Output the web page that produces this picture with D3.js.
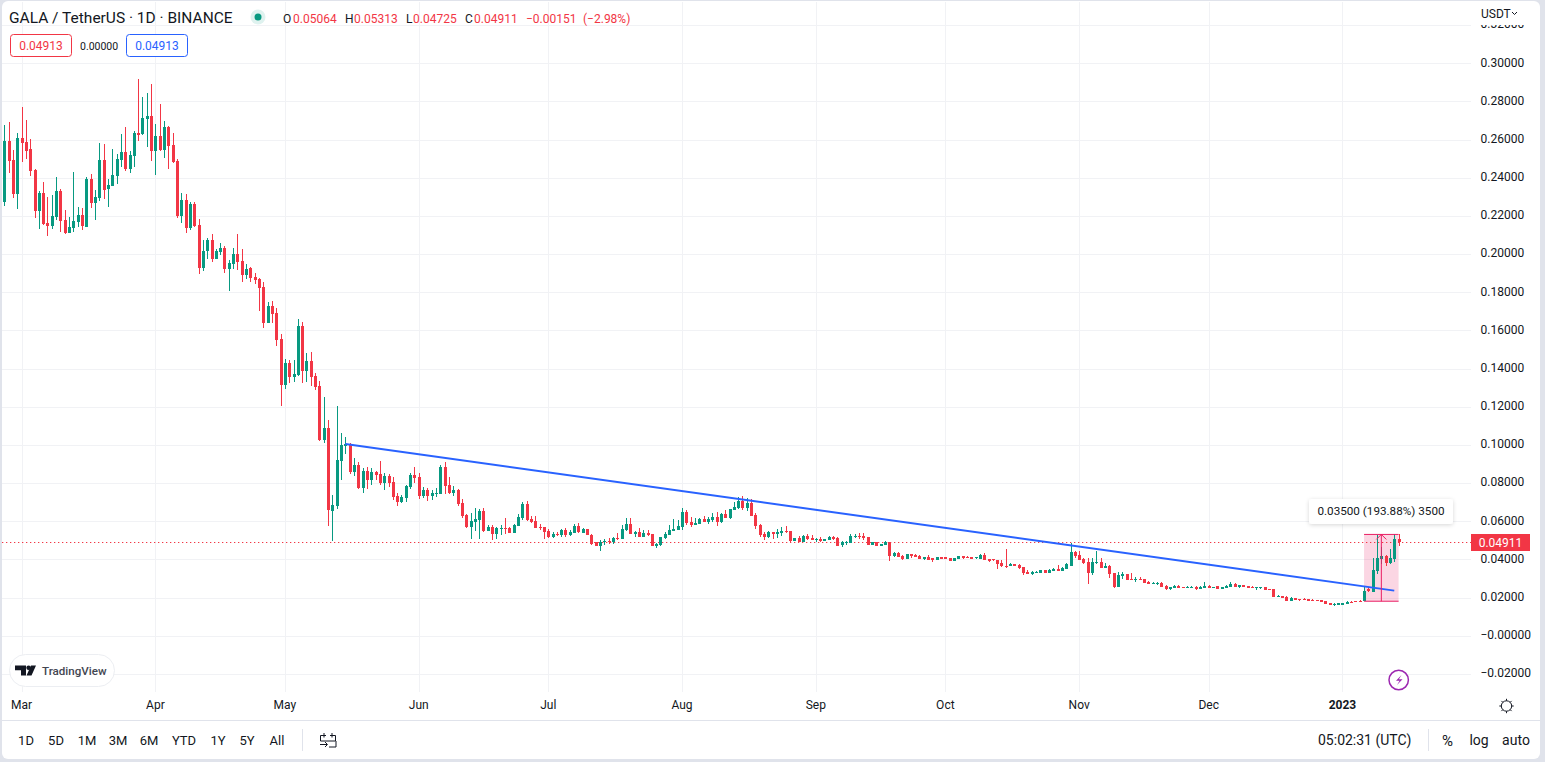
<!DOCTYPE html>
<html><head><meta charset="utf-8">
<script src="https://cdn.jsdelivr.net/npm/d3@7"></script>
<style>
html,body{margin:0;padding:0;background:#e0e3eb;overflow:hidden}
svg{display:block;font-family:Roboto,sans-serif}
text{fill:#131722}
</style></head><body>
<svg id="c" width="1545" height="762"></svg>
<script>
const firstDay = "2022-02-25";
const opens = [
.2273,.2591,.2492,.2314,.2607,.2586,.2549,.2439,.2225,.2319,
.2162,.2146,.2193,.2329,.2178,.2109,.2136,.2167,.2204,.2141,
.2392,.2267,.2293,.2492,.2340,.2356,.2408,.2492,.2534,.2445,
.2513,.2633,.2628,.2707,.2722,.2539,.2618,.2544,.2665,.2570,
.2487,.2198,.2282,.2136,.2261,.2151,.1926,.2015,.2073,.1973,
.2010,.2031,.1921,.1947,.2000,.1963,.1889,.1926,.1879,.1867,
.1827,.1638,.1727,.1690,.1554,.1313,.1429,.1355,.1366,.1622,
.1387,.1439,.1360,.1308,.1025,.1088,.0653,.0680,.0915,.0994,
.1004,.0858,.0894,.0774,.0863,.0816,.0859,.0847,.0798,.0837,
.0805,.0732,.0700,.0721,.0779,.0842,.0831,.0732,.0763,.0732,
.0744,.0742,.0884,.0789,.0748,.0763,.0695,.0632,.0569,.0596,
.0606,.0653,.0548,.0569,.0533,.0559,.0564,.0564,.0538,.0575,
.0616,.0690,.0611,.0601,.0569,.0568,.0548,.0517,.0533,.0527,
.0554,.0527,.0538,.0575,.0538,.0559,.0529,.0489,.0470,.0491,
.0496,.0491,.0512,.0507,.0554,.0585,.0533,.0543,.0517,.0538,
.0533,.0470,.0475,.0512,.0527,.0548,.0554,.0570,.0648,.0596,
.0580,.0585,.0612,.0596,.0606,.0622,.0596,.0638,.0617,.0659,
.0669,.0706,.0669,.0695,.0632,.0580,.0533,.0517,.0542,.0533,
.0536,.0547,.0549,.0496,.0512,.0491,.0522,.0512,.0502,.0507,
.0496,.0502,.0517,.0512,.0475,.0488,.0486,.0517,.0522,.0522,
.0517,.0475,.0491,.0470,.0475,.0491,.0418,.0433,.0418,.0402,
.0428,.0423,.0418,.0402,.0412,.0407,.0397,.0412,.0411,.0407,
.0392,.0402,.0418,.0412,.0412,.0405,.0402,.0423,.0402,.0400,
.0397,.0381,.0365,.0365,.0376,.0370,.0360,.0334,.0323,.0329,
.0329,.0344,.0329,.0339,.0350,.0339,.0350,.0365,.0439,.0423,
.0402,.0386,.0329,.0381,.0386,.0355,.0365,.0329,.0255,.0313,
.0323,.0296,.0292,.0297,.0297,.0283,.0271,.0271,.0276,.0261,
.0245,.0250,.0261,.0254,.0250,.0250,.0255,.0245,.0250,.0261,
.0250,.0261,.0245,.0250,.0255,.0271,.0255,.0266,.0261,.0255,
.0250,.0250,.0255,.0245,.0245,.0203,.0208,.0203,.0182,.0198,
.0191,.0192,.0191,.0189,.0187,.0187,.0182,.0172,.0161,.0161,
.0161,.0166,.0178,.0180,.0184,.0180,.0243,.0229,.0339,.0402,
.0418,.0381,.0402,.05064];
const closes = [
.2591,.2488,.2314,.2607,.2581,.2539,.2434,.2225,.2319,.2157,
.2146,.2198,.2329,.2172,.2109,.2141,.2172,.2204,.2146,.2392,
.2267,.2298,.2492,.2335,.2361,.2413,.2497,.2534,.2445,.2518,
.2633,.2623,.2712,.2722,.2539,.2618,.2544,.2665,.2565,.2481,
.2198,.2282,.2136,.2261,.2146,.1926,.2015,.2073,.1973,.2015,
.2031,.1921,.1952,.2000,.1958,.1889,.1921,.1874,.1863,.1821,
.1638,.1727,.1685,.1549,.1313,.1429,.1355,.1371,.1622,.1387,
.1439,.1355,.1303,.1025,.1088,.0658,.0685,.0920,.0999,.1004,
.0858,.0894,.0774,.0863,.0816,.0859,.0842,.0798,.0837,.0802,
.0728,.0700,.0727,.0784,.0842,.0826,.0732,.0763,.0732,.0747,
.0749,.0884,.0784,.0748,.0763,.0690,.0627,.0569,.0601,.0611,
.0653,.0548,.0569,.0533,.0564,.0564,.0559,.0538,.0580,.0622,
.0690,.0606,.0596,.0564,.0564,.0543,.0517,.0533,.0527,.0554,
.0527,.0543,.0575,.0543,.0559,.0527,.0480,.0470,.0491,.0496,
.0491,.0512,.0507,.0559,.0585,.0533,.0543,.0517,.0538,.0527,
.0470,.0480,.0517,.0533,.0554,.0559,.0575,.0648,.0591,.0580,
.0591,.0612,.0596,.0612,.0622,.0596,.0638,.0617,.0664,.0674,
.0706,.0669,.0695,.0627,.0575,.0528,.0517,.0543,.0533,.0543,
.0549,.0543,.0496,.0512,.0491,.0522,.0507,.0502,.0507,.0496,
.0505,.0517,.0507,.0470,.0491,.0491,.0522,.0522,.0517,.0512,
.0475,.0491,.0470,.0481,.0491,.0418,.0433,.0412,.0402,.0428,
.0418,.0412,.0402,.0412,.0397,.0397,.0412,.0402,.0402,.0392,
.0407,.0418,.0407,.0407,.0402,.0411,.0423,.0397,.0392,.0397,
.0376,.0365,.0362,.0376,.0365,.0355,.0329,.0323,.0334,.0334,
.0344,.0329,.0344,.0350,.0339,.0355,.0376,.0439,.0418,.0397,
.0381,.0329,.0386,.0386,.0355,.0365,.0323,.0255,.0318,.0323,
.0292,.0292,.0297,.0292,.0276,.0271,.0278,.0278,.0255,.0245,
.0255,.0261,.0250,.0250,.0255,.0255,.0245,.0255,.0261,.0250,
.0254,.0245,.0255,.0261,.0271,.0255,.0266,.0255,.0250,.0250,
.0254,.0254,.0240,.0243,.0203,.0208,.0198,.0182,.0198,.0187,
.0187,.0187,.0182,.0182,.0182,.0177,.0166,.0161,.0166,.0170,
.0170,.0177,.0173,.0175,.0178,.0234,.0233,.0344,.0407,.0418,
.0381,.0407,.0506,.04911];
const highs = [
.2675,.2691,.2544,.2633,.2769,.2701,.2602,.2445,.2329,.2377,
.2298,.2309,.2403,.2340,.2230,.2193,.2429,.2246,.2240,.2403,
.2419,.2335,.2581,.2576,.2392,.2549,.2523,.2628,.2665,.2539,
.2644,.2916,.2822,.2843,.2890,.2680,.2785,.2696,.2670,.2633,
.2497,.2319,.2314,.2272,.2272,.2183,.2073,.2083,.2104,.2026,
.2057,.2041,.1968,.2031,.2104,.2026,.1947,.1931,.1900,.1872,
.1853,.1748,.1753,.1717,.1580,.1449,.1444,.1444,.1659,.1643,
.1481,.1486,.1376,.1334,.1250,.1130,.0737,.1203,.1062,.1041,
.1009,.0931,.0910,.0879,.0882,.0880,.0861,.0915,.0850,.0847,
.0833,.0746,.0737,.0789,.0852,.0884,.0854,.0781,.0772,.0763,
.0774,.0894,.0910,.0831,.0784,.0768,.0716,.0638,.0641,.0669,
.0662,.0669,.0580,.0580,.0571,.0580,.0616,.0571,.0585,.0638,
.0700,.0706,.0627,.0627,.0585,.0569,.0559,.0543,.0543,.0559,
.0562,.0554,.0585,.0589,.0564,.0561,.0533,.0491,.0501,.0507,
.0512,.0517,.0538,.0580,.0616,.0616,.0548,.0562,.0554,.0554,
.0533,.0486,.0517,.0543,.0580,.0611,.0606,.0669,.0659,.0622,
.0617,.0617,.0627,.0622,.0643,.0648,.0643,.0659,.0664,.0701,
.0727,.0732,.0722,.0716,.0643,.0585,.0543,.0549,.0543,.0559,
.0570,.0575,.0549,.0512,.0522,.0528,.0533,.0528,.0512,.0517,
.0507,.0522,.0522,.0517,.0496,.0496,.0533,.0533,.0538,.0538,
.0517,.0491,.0491,.0481,.0496,.0491,.0439,.0439,.0423,.0428,
.0428,.0428,.0423,.0412,.0423,.0407,.0412,.0412,.0412,.0407,
.0407,.0418,.0418,.0418,.0412,.0412,.0428,.0433,.0402,.0402,
.0397,.0397,.0454,.0381,.0376,.0376,.0360,.0344,.0339,.0339,
.0344,.0344,.0350,.0355,.0371,.0360,.0381,.0486,.0444,.0444,
.0407,.0407,.0407,.0444,.0407,.0381,.0371,.0329,.0334,.0334,
.0323,.0329,.0308,.0308,.0297,.0287,.0281,.0281,.0281,.0266,
.0255,.0266,.0266,.0255,.0261,.0261,.0261,.0261,.0281,.0266,
.0255,.0261,.0255,.0266,.0281,.0276,.0266,.0266,.0261,.0261,
.0255,.0255,.0255,.0245,.0245,.0213,.0208,.0208,.0203,.0198,
.0192,.0198,.0192,.0191,.0187,.0187,.0182,.0172,.0172,.0172,
.0172,.0182,.0180,.0182,.0185,.0255,.0255,.0407,.0528,.0466,
.0423,.0454,.0531,.05313];
const lows = [
.2252,.2425,.2293,.2237,.2481,.2497,.2408,.2188,.2130,.2151,
.2094,.2130,.2178,.2115,.2104,.2109,.2115,.2141,.2125,.2141,
.2240,.2178,.2277,.2287,.2246,.2356,.2366,.2455,.2434,.2424,
.2455,.2591,.2623,.2560,.2487,.2413,.2539,.2502,.2445,.2476,
.2188,.2162,.2109,.2125,.2141,.1895,.1910,.1973,.1958,.1973,
.1994,.1900,.1806,.1921,.1916,.1853,.1869,.1853,.1842,.1701,
.1612,.1638,.1638,.1518,.1203,.1292,.1324,.1329,.1360,.1324,
.1329,.1308,.1287,.1020,.1010,.0575,.0496,.0664,.0816,.0952,
.0847,.0837,.0769,.0748,.0768,.0789,.0816,.0789,.0763,.0781,
.0711,.0679,.0695,.0700,.0768,.0798,.0716,.0721,.0706,.0711,
.0727,.0742,.0742,.0742,.0732,.0679,.0617,.0564,.0507,.0548,
.0507,.0543,.0548,.0501,.0507,.0527,.0533,.0538,.0538,.0575,
.0606,.0601,.0590,.0564,.0554,.0507,.0512,.0512,.0522,.0517,
.0517,.0522,.0538,.0538,.0538,.0527,.0475,.0470,.0444,.0473,
.0480,.0480,.0501,.0507,.0548,.0533,.0517,.0517,.0517,.0522,
.0470,.0459,.0470,.0507,.0527,.0548,.0554,.0554,.0580,.0570,
.0580,.0585,.0596,.0585,.0596,.0575,.0591,.0617,.0612,.0659,
.0664,.0659,.0653,.0627,.0559,.0517,.0502,.0512,.0507,.0512,
.0522,.0538,.0491,.0496,.0491,.0491,.0502,.0502,.0491,.0491,
.0496,.0502,.0502,.0470,.0465,.0475,.0486,.0512,.0507,.0502,
.0475,.0475,.0470,.0470,.0475,.0391,.0412,.0412,.0397,.0402,
.0407,.0412,.0402,.0397,.0397,.0386,.0397,.0402,.0402,.0392,
.0392,.0402,.0402,.0407,.0402,.0402,.0402,.0397,.0386,.0392,
.0350,.0360,.0355,.0365,.0365,.0350,.0318,.0323,.0318,.0329,
.0329,.0329,.0329,.0339,.0339,.0339,.0350,.0365,.0407,.0397,
.0376,.0271,.0318,.0376,.0355,.0355,.0303,.0250,.0255,.0297,
.0292,.0292,.0281,.0292,.0276,.0271,.0271,.0266,.0255,.0240,
.0240,.0250,.0250,.0250,.0250,.0250,.0240,.0245,.0250,.0250,
.0250,.0245,.0245,.0250,.0255,.0255,.0250,.0255,.0250,.0250,
.0240,.0245,.0240,.0243,.0203,.0203,.0198,.0182,.0182,.0187,
.0182,.0187,.0182,.0182,.0182,.0177,.0166,.0161,.0156,.0161,
.0161,.0166,.0173,.0175,.0178,.0180,.0229,.0229,.0322,.0376,
.0365,.0376,.0386,.04725];

const priceTicks = [.32,.30,.28,.26,.24,.22,.20,.18,.16,.14,.12,.10,.08,.06,.04,.02,0,-.02];
const priceTickLabels = ["0.32000","0.30000","0.28000","0.26000","0.24000","0.22000","0.20000","0.18000","0.16000","0.14000","0.12000","0.10000","0.08000","0.06000","0.04000","0.02000","\u22120.00000","\u22120.02000"];
const monthDays = ["2022-03-01","2022-04-01","2022-05-01","2022-06-01","2022-07-01","2022-08-01","2022-09-01","2022-10-01","2022-11-01","2022-12-01","2023-01-01"];
const monthLabels = ["Mar","Apr","May","Jun","Jul","Aug","Sep","Oct","Nov","Dec","2023"];
const rangeButtons = ["1D","5D","1M","3M","6M","YTD","1Y","5Y","All"];
const rangeButtonCentres = [26,56,87,118,149,184,218,247,277];
const ohlcLabels = [["O",283],["H",345],["L",406],["C",465]];
const ohlcValues = [["0.05064",293],["0.05313",354],["0.04725",413],["0.04911",474],["\u22120.00151",526],["(\u22122.98%)",583]];
const trendDays = ["2022-05-15","2023-01-13"];
const trendPrices = [.1004,.0236];
const measureDays = ["2023-01-06","2023-01-14"];
const measurePrices = [.01805,.05305];
const lastPrice = .04911;

const GREEN="#089981", RED="#f23645", BLUE="#2962ff", PINK="#e91e63", GRID="#f1f2f5";
const dayMs=864e5, parse=d3.utcParse("%Y-%m-%d"), t0=parse(firstDay);
const candles = opens.map((o,i)=>({date:new Date(+t0+i*dayMs),o,c:closes[i],h:highs[i],l:lows[i]}));
const x=d3.scaleUtc().domain([t0,candles[candles.length-1].date]).range([4.33,1398.6]);
const y=d3.scaleLinear().domain([.30,.02]).range([63.2,597.5]);
const svg=d3.select("#c");
const defs=svg.append("defs");
defs.append("clipPath").attr("id","axclip").append("rect").attr("x",1471).attr("y",25).attr("width",70).attr("height",670);
defs.append("filter").attr("id","sh").attr("x","-10%").attr("y","-30%").attr("width","120%").attr("height","170%")
  .append("feDropShadow").attr("dx",0).attr("dy",1).attr("stdDeviation",2).attr("flood-color","#000").attr("flood-opacity",.16);

svg.append("rect").attr("x",2).attr("y",1).attr("width",1538).attr("height",758).attr("rx",6).attr("fill","#fff");

// grid
const grid=svg.append("g").attr("shape-rendering","crispEdges");
grid.selectAll(".h").data(priceTicks).join("line").attr("x1",2).attr("x2",1471)
  .attr("y1",d=>Math.round(y(d))+.5).attr("y2",d=>Math.round(y(d))+.5).attr("stroke",GRID);
grid.selectAll(".v").data(monthDays).join("line")
  .attr("x1",d=>Math.round(x(parse(d)))+.5).attr("x2",d=>Math.round(x(parse(d)))+.5)
  .attr("y1",2).attr("y2",692).attr("stroke",GRID);

// measure box (behind candles)
const mx0=x(parse(measureDays[0])), mx1=x(parse(measureDays[1])), my0=y(measurePrices[0]), my1=y(measurePrices[1]);
svg.append("rect").attr("x",mx0).attr("y",my1).attr("width",mx1-mx0).attr("height",my0-my1).attr("fill",PINK).attr("fill-opacity",.18);

// last price line
const lastY=Math.round(y(lastPrice)+.3)+.5;
svg.append("line").attr("x1",2).attr("x2",1471).attr("y1",lastY).attr("y2",lastY)
  .attr("stroke",RED).attr("stroke-dasharray","1.3 2.7").attr("stroke-width",1.2);

// candles
const cg=svg.append("g").attr("shape-rendering","crispEdges");
cg.selectAll(".w").data(candles).join("rect").attr("x",d=>Math.round(x(d.date))).attr("width",1)
  .attr("y",d=>y(d.h)).attr("height",d=>Math.max(1,y(d.l)-y(d.h))).attr("fill",d=>d.c>=d.o?GREEN:RED);
cg.selectAll(".b").data(candles).join("rect").attr("x",d=>Math.round(x(d.date))-1).attr("width",3)
  .attr("y",d=>y(Math.max(d.o,d.c))).attr("height",d=>Math.max(1,Math.abs(y(d.o)-y(d.c)))).attr("fill",d=>d.c>=d.o?GREEN:RED);

// trend line
svg.append("line").attr("x1",x(parse(trendDays[0]))).attr("y1",y(trendPrices[0]))
  .attr("x2",x(parse(trendDays[1]))).attr("y2",y(trendPrices[1])).attr("stroke",BLUE).attr("stroke-width",2);

// measure lines
const mm=svg.append("g").attr("stroke",PINK).attr("fill","none").attr("stroke-width",1);
const mc=(mx0+mx1)/2;
mm.append("line").attr("x1",mx0).attr("x2",mx1).attr("y1",my1).attr("y2",my1);
mm.append("line").attr("x1",mx0).attr("x2",mx1).attr("y1",my0).attr("y2",my0);
mm.append("line").attr("x1",mc).attr("x2",mc).attr("y1",my0).attr("y2",my1);
mm.append("path").attr("d",`M${mc-5} ${my1+5}L${mc} ${my1}L${mc+5} ${my1+5}`);

// measure tooltip
svg.append("rect").attr("x",1309).attr("y",499).attr("width",144).attr("height",25).attr("rx",3).attr("fill","#fff").attr("filter","url(#sh)");
svg.append("text").attr("x",1381).attr("y",515).attr("text-anchor","middle").attr("font-size",11.7).text("0.03500 (193.88%) 3500");

// y axis
const yAxis=d3.axisRight(y).tickValues(priceTicks).tickFormat((d,i)=>priceTickLabels[i]).tickSize(0).tickPadding(0);
const ygInner=svg.append("g").attr("clip-path","url(#axclip)").append("g").attr("transform","translate(1480.5,-1)").call(yAxis);
ygInner.select(".domain").remove();
ygInner.selectAll("text").attr("font-size",12).attr("font-family","Roboto,sans-serif").attr("fill","#131722");

// last price tag
svg.append("rect").attr("x",1471).attr("y",lastY-8.5).attr("width",59).attr("height",17).attr("fill",RED);
svg.append("text").attr("x",1500.5).attr("y",lastY+4.3).attr("text-anchor","middle").attr("font-size",12).style("fill","#fff").text(d3.format(".5f")(lastPrice));

// x axis
const xAxis=d3.axisBottom(x).tickValues(monthDays.map(d=>parse(d))).tickFormat((d,i)=>monthLabels[i]).tickSize(0).tickPadding(0);
const xg=svg.append("g").attr("transform","translate(-0.5,700.5)").call(xAxis);
xg.select(".domain").remove();
xg.selectAll("text").attr("font-size",12).attr("font-family","Roboto,sans-serif").attr("fill","#131722")
  .attr("font-weight",(d,i)=>monthLabels[i]==="2023"?700:400);

// separators
const sep=svg.append("g").attr("shape-rendering","crispEdges").attr("stroke","#e0e3eb");
sep.append("line").attr("x1",2).attr("x2",1540).attr("y1",720.5).attr("y2",720.5);
sep.append("line").attr("x1",302.5).attr("x2",302.5).attr("y1",729).attr("y2",751);
sep.append("line").attr("x1",1428.5).attr("x2",1428.5).attr("y1",729).attr("y2",751);

// header
svg.append("text").attr("x",9).attr("y",23).attr("font-size",15.5).text("GALA / TetherUS \u00b7 1D \u00b7 BINANCE");
svg.append("circle").attr("cx",258).attr("cy",17).attr("r",7.5).attr("fill",GREEN).attr("fill-opacity",.13);
svg.append("circle").attr("cx",258).attr("cy",17).attr("r",3.5).attr("fill",GREEN);
svg.selectAll(".ol").data(ohlcLabels).join("text").attr("x",d=>d[1]).attr("y",22.5).attr("font-size",12).text(d=>d[0]);
svg.selectAll(".ov").data(ohlcValues).join("text").attr("x",d=>d[1]).attr("y",22.5).attr("font-size",12).style("fill",RED).text(d=>d[0]);

const badge=(bx,c)=>{
  svg.append("rect").attr("x",bx+.5).attr("y",34.5).attr("width",61).attr("height",22).attr("rx",3).attr("fill","#fff").attr("stroke",c);
  svg.append("text").attr("x",bx+31).attr("y",50).attr("text-anchor","middle").attr("font-size",12).style("fill",c).text("0.04913");
};
badge(10,RED); badge(126,BLUE);
svg.append("text").attr("x",80).attr("y",49.5).attr("font-size",10.5).text("0.00000");

// currency
svg.append("text").attr("x",1481).attr("y",17.5).attr("font-size",12).text("USDT");
svg.append("path").attr("d","M1512 12l2.5 2.5l2.5 -2.5").attr("fill","none").attr("stroke","#131722");

// TradingView badge
svg.append("rect").attr("x",9.5).attr("y",654.5).attr("width",105).attr("height",32).attr("rx",16).attr("fill","#fff").attr("stroke","#eceef2");
svg.append("path").attr("d","M15 665.5h11v10h-5v-5.2h-6zM36 665.5l-4.5 10h-5l4.5-10z").attr("fill","#131722");
svg.append("circle").attr("cx",28.6).attr("cy",667.8).attr("r",2.3).attr("fill","#131722");
svg.append("text").attr("x",42).attr("y",674.5).attr("font-size",11.6).attr("font-weight",500).style("fill","#434651").text("TradingView");

// bolt
svg.append("circle").attr("cx",1398.7).attr("cy",680).attr("r",9.7).attr("fill","#fff").attr("stroke","#9c27b0").attr("stroke-width",1.5);
svg.append("path").attr("d","M1401.5 675l-5.5 5.8h3.6l-2.6 4.2l5.5-5.8h-3.6z").attr("fill","#9c27b0");

// gear
const gear=svg.append("g").attr("transform","translate(1506.5,706)").attr("stroke","#131722").attr("fill","none");
gear.append("circle").attr("r",5.2);
d3.range(8).forEach(i=>{const a=i*Math.PI/4;
  gear.append("line").attr("x1",5.2*Math.cos(a)).attr("y1",5.2*Math.sin(a)).attr("x2",7.2*Math.cos(a)).attr("y2",7.2*Math.sin(a));});

// bottom bar
svg.selectAll(".rb").data(rangeButtons).join("text").attr("x",(d,i)=>rangeButtonCentres[i]).attr("y",745).attr("text-anchor","middle").attr("font-size",13).text(d=>d);
svg.append("path").attr("d","M326 735.5h-5.5v5.5h15v-5.5h-5.5M324 733v4.5M332 733v4.5M336 741v6h-7M320 744.5h7M325 742l2.5 2.5L325 747")
  .attr("fill","none").attr("stroke","#131722");
svg.append("text").attr("x",1318).attr("y",745).attr("font-size",14).text("05:02:31 (UTC)");
svg.append("text").attr("x",1447.5).attr("y",746).attr("text-anchor","middle").attr("font-size",15).text("%");
svg.append("text").attr("x",1479).attr("y",745).attr("text-anchor","middle").attr("font-size",14).text("log");
svg.append("text").attr("x",1516).attr("y",745).attr("text-anchor","middle").attr("font-size",14).text("auto");
</script>
</body></html>
